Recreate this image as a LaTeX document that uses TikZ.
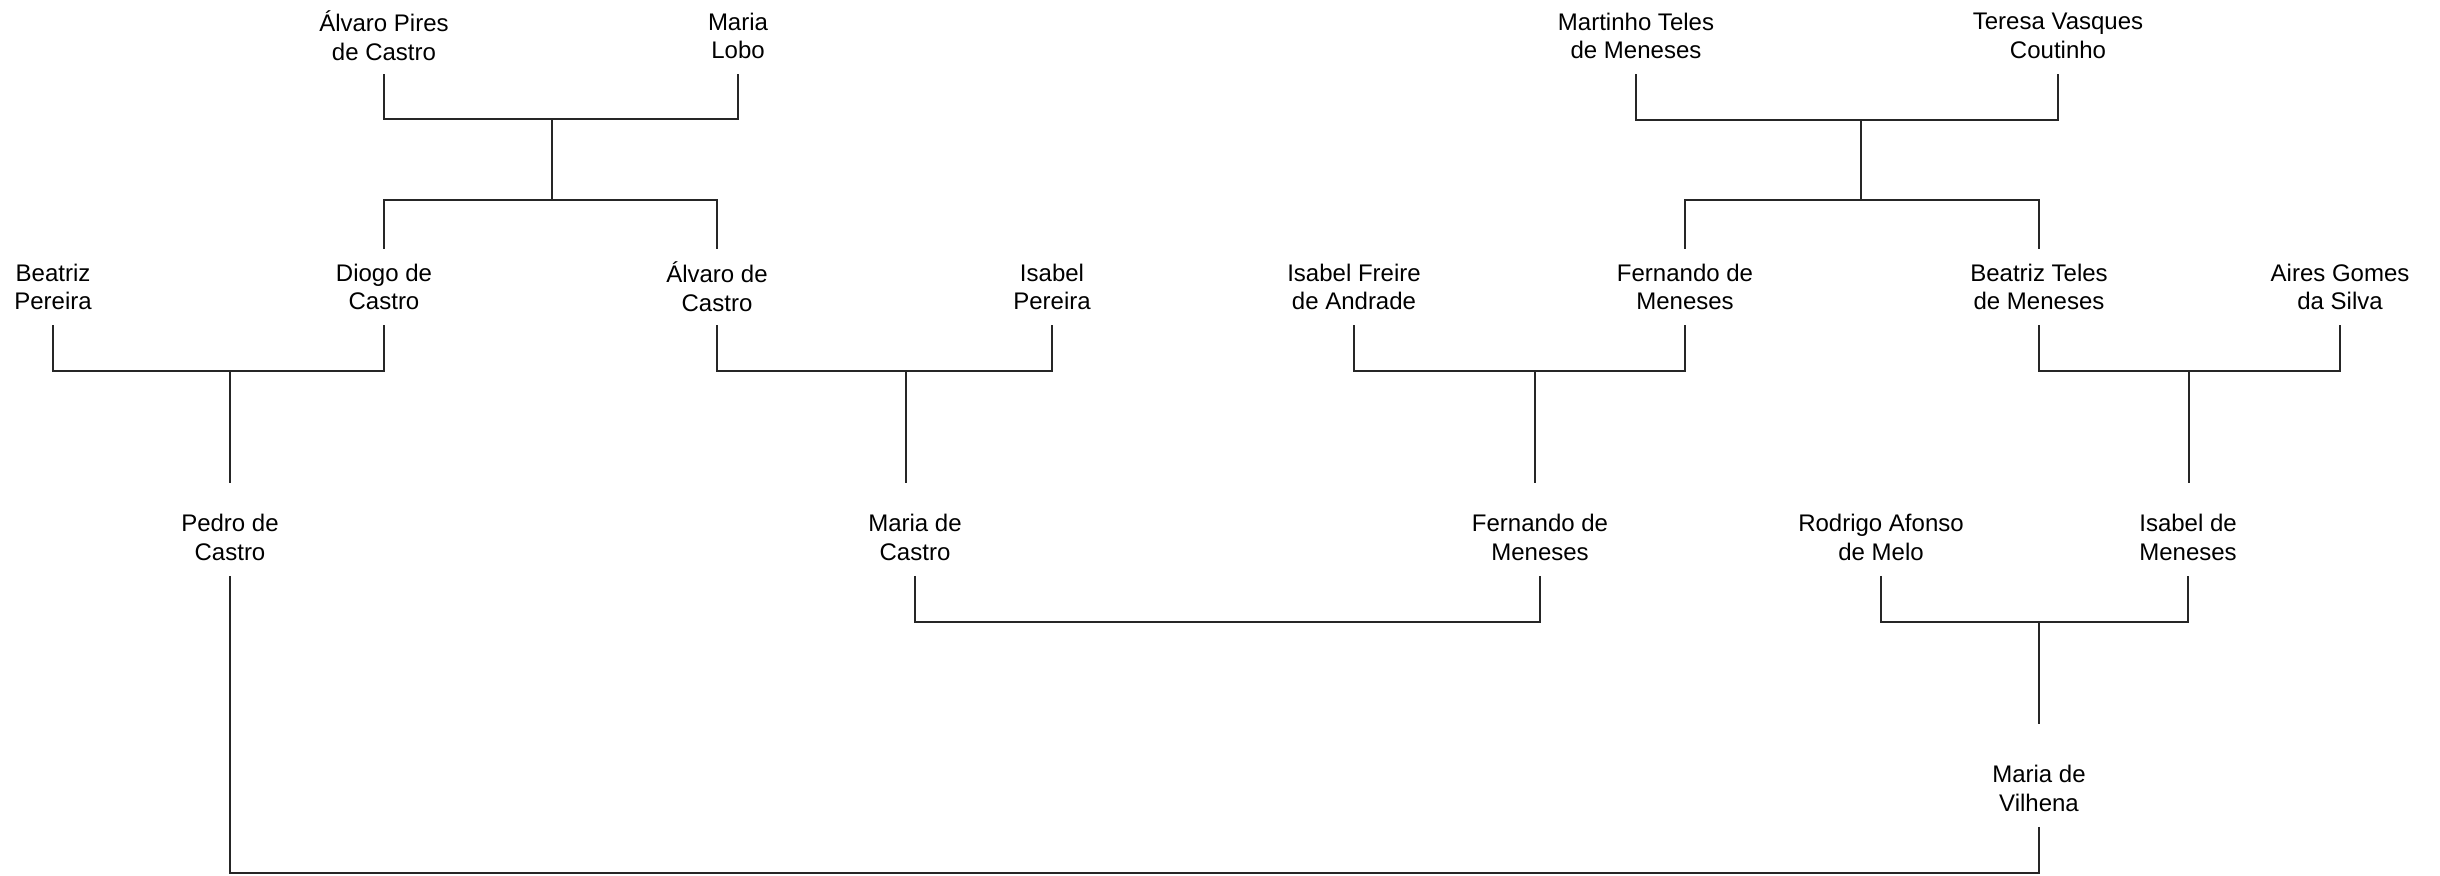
\documentclass[tikz,border=0pt]{standalone}
\usepackage{fontspec}
\setmainfont{Liberation Sans}
\begin{document}
\begin{tikzpicture}[x=0.5pt,y=-0.5pt,
  person/.style={align=center, inner sep=0pt, minimum height=38pt, font=\fontsize{12}{14.3}\selectfont},
  link/.style={line width=0.6pt, black!85}]
\useasboundingbox (0,0) rectangle (2440,876);
% row 1
\node[person] (apc) at (384,36) {Álvaro Pires\\de Castro};
\node[person] (ml)  at (738,36) {Maria\\Lobo};
\node[person] (mtm) at (1636,36) {Martinho Teles\\de Meneses};
\node[person] (tvc) at (2058,36) {Teresa Vasques\\Coutinho};
% row 2
\node[person] (bp)  at (53,287) {Beatriz\\Pereira};
\node[person] (dc)  at (384,287) {Diogo de\\Castro};
\node[person] (ac)  at (717,287) {Álvaro de\\Castro};
\node[person] (ip)  at (1052,287) {Isabel\\Pereira};
\node[person] (ifa) at (1354,287) {Isabel Freire\\de Andrade};
\node[person] (fma) at (1685,287) {Fernando de\\Meneses};
\node[person] (btm) at (2039,287) {Beatriz Teles\\de Meneses};
\node[person] (ags) at (2340,287) {Aires Gomes\\da Silva};
% row 3
\node[person] (pc)  at (230,537.5) {Pedro de\\Castro};
\node[person] (mc)  at (915,537.5) {Maria de\\Castro};
\node[person] (fmb) at (1540,537.5) {Fernando de\\Meneses};
\node[person] (ram) at (1881,537.5) {Rodrigo Afonso\\de Melo};
\node[person] (im)  at (2188,537.5) {Isabel de\\Meneses};
% row 4
\node[person] (mv)  at (2039,788.5) {Maria de\\Vilhena};
% junction coordinates
\coordinate (h1) at (552,119);
\coordinate (s1) at (552,200);
\coordinate (h2) at (1861,120);
\coordinate (s2) at (1861,200);
\coordinate (c1) at (230,371);
\coordinate (c1t) at (230,483);
\coordinate (c2) at (906,371);
\coordinate (c2t) at (906,483);
\coordinate (c3) at (1535,371);
\coordinate (c3t) at (1535,483);
\coordinate (c4) at (2189,371);
\coordinate (c4t) at (2189,483);
\coordinate (m1) at (1228,622);
\coordinate (c6) at (2039,622);
\coordinate (c6t) at (2039,724);
\coordinate (b1) at (1134,873);
% connectors
\draw[link] (apc.south) |- (h1) -| (ml.south);
\draw[link] (h1) -- (s1);
\draw[link] (dc.north) |- (s1) -| (ac.north);
\draw[link] (mtm.south) |- (h2) -| (tvc.south);
\draw[link] (h2) -- (s2);
\draw[link] (fma.north) |- (s2) -| (btm.north);
\draw[link] (bp.south) |- (c1) -| (dc.south);
\draw[link] (c1) -- (c1t);
\draw[link] (ac.south) |- (c2) -| (ip.south);
\draw[link] (c2) -- (c2t);
\draw[link] (ifa.south) |- (c3) -| (fma.south);
\draw[link] (c3) -- (c3t);
\draw[link] (btm.south) |- (c4) -| (ags.south);
\draw[link] (c4) -- (c4t);
\draw[link] (mc.south) |- (m1) -| (fmb.south);
\draw[link] (ram.south) |- (c6) -| (im.south);
\draw[link] (c6) -- (c6t);
\draw[link] (mv.south) |- (b1) -| (pc.south);
\end{tikzpicture}
\end{document}
